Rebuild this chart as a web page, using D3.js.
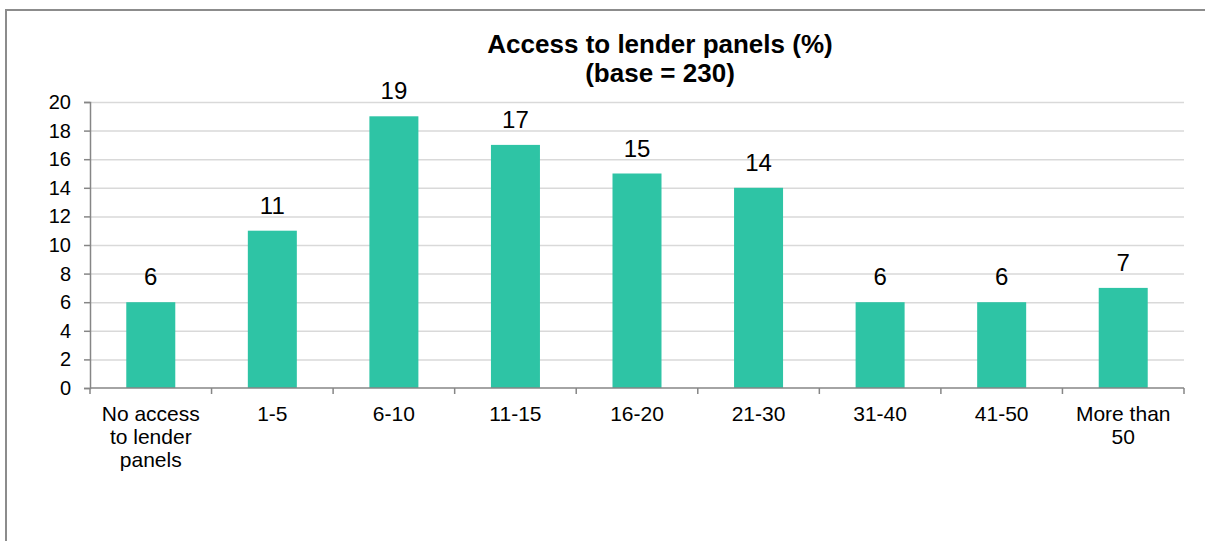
<!DOCTYPE html>
<html>
<head>
<meta charset="utf-8">
<script src="https://cdn.jsdelivr.net/npm/d3@7"></script>
<style>
  html, body { margin: 0; padding: 0; background: #fff; }
  svg { display: block; font-family: "Liberation Sans", Arial, sans-serif; }
</style>
</head>
<body>
<svg id="chart" width="1205" height="541"></svg>
<script>
// Share of respondents by number of lender panels they can access
const categories = [
  ["No access", "to lender", "panels"],
  ["1-5"],
  ["6-10"],
  ["11-15"],
  ["16-20"],
  ["21-30"],
  ["31-40"],
  ["41-50"],
  ["More than", "50"]
];
const values = [6, 11, 19, 17, 15, 14, 6, 6, 7];
const yTicks = [0, 2, 4, 6, 8, 10, 12, 14, 16, 18, 20];
const titleLines = ["Access to lender panels (%)", "(base = 230)"];

const svg = d3.select("#chart");
const W = 1205, H = 541;
const plot = { left: 90, right: 1184, top: 102, bottom: 388 };

// outer frame
svg.append("rect")
  .attr("x", 6).attr("y", 10)
  .attr("width", W + 10).attr("height", H + 10)
  .attr("fill", "#fff")
  .attr("stroke", "#8c8c8c").attr("stroke-width", 2);

const idx = categories.map((d, i) => i);
const x = d3.scaleBand().domain(idx).range([plot.left, plot.right]).paddingInner(0).paddingOuter(0);
const y = d3.scaleLinear().domain([0, 20]).range([plot.bottom, plot.top]);

// gridlines
svg.append("g").selectAll("line")
  .data(yTicks.filter(t => t > 0))
  .join("line")
  .attr("x1", plot.left).attr("x2", plot.right)
  .attr("y1", d => y(d) + 0.5).attr("y2", d => y(d) + 0.5)
  .attr("stroke", "#d9d9d9").attr("stroke-width", 1.5);

// y axis
const yAxis = d3.axisLeft(y).tickValues(yTicks).tickSize(6).tickPadding(13);
const gy = svg.append("g").attr("transform", `translate(${plot.left},0)`).call(yAxis);
gy.select(".domain").attr("stroke", "#868686").attr("stroke-width", 1.5);
gy.selectAll(".tick line").attr("stroke", "#868686").attr("stroke-width", 1.5);
gy.selectAll(".tick text")
  .attr("font-size", 20).attr("fill", "#000")
  .attr("font-family", "Liberation Sans, Arial, sans-serif");

// bars
const barW = 49;
svg.append("g").selectAll("rect")
  .data(values)
  .join("rect")
  .attr("x", (d, i) => x(i) + x.bandwidth() / 2 - barW / 2)
  .attr("y", d => y(d))
  .attr("width", barW)
  .attr("height", d => y(0) - y(d))
  .attr("fill", "#2ec4a5");

// value labels
svg.append("g").selectAll("text")
  .data(values)
  .join("text")
  .attr("x", (d, i) => x(i) + x.bandwidth() / 2)
  .attr("y", d => y(d) - 17)
  .attr("text-anchor", "middle")
  .attr("font-size", 24)
  .attr("fill", "#000")
  .text(d => d);

// x axis baseline and band ticks
const gx = svg.append("g");
gx.append("line")
  .attr("x1", plot.left).attr("x2", plot.right)
  .attr("y1", plot.bottom).attr("y2", plot.bottom)
  .attr("stroke", "#868686").attr("stroke-width", 1.5);
gx.selectAll("line.tick")
  .data(d3.range(categories.length + 1))
  .join("line")
  .attr("class", "tick")
  .attr("x1", i => plot.left + i * x.step())
  .attr("x2", i => plot.left + i * x.step())
  .attr("y1", plot.bottom).attr("y2", plot.bottom + 6)
  .attr("stroke", "#868686").attr("stroke-width", 1.5);

// category labels
const cat = svg.append("g").selectAll("text")
  .data(categories)
  .join("text")
  .attr("text-anchor", "middle")
  .attr("font-size", 21)
  .attr("fill", "#000");
cat.each(function(lines, i) {
  d3.select(this).selectAll("tspan")
    .data(lines)
    .join("tspan")
    .attr("x", x(i) + x.bandwidth() / 2)
    .attr("y", (l, j) => 421 + j * 23)
    .text(l => l);
});

// title
svg.append("g").selectAll("text")
  .data(titleLines)
  .join("text")
  .attr("x", 660)
  .attr("y", (d, i) => 53 + i * 29)
  .attr("text-anchor", "middle")
  .attr("font-size", 26)
  .attr("font-weight", "bold")
  .attr("fill", "#000")
  .text(d => d);
</script>
</body>
</html>
